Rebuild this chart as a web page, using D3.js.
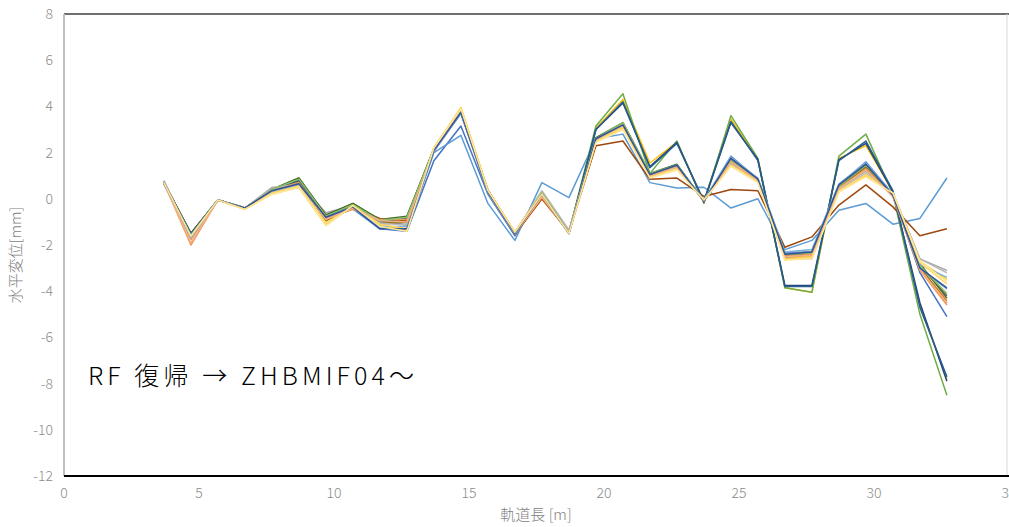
<!DOCTYPE html>
<html>
<head>
<meta charset="utf-8">
<script src="https://cdn.jsdelivr.net/npm/d3@7"></script>
<style>
  html, body { margin: 0; padding: 0; background: #fff; overflow: hidden; }
  svg { display: block; }
</style>
</head>
<body>
<div id="chart-container"></div>
<script>

//
// data
//
var xValues = [3.7, 4.7, 5.7, 6.7, 7.7, 8.7, 9.7, 10.7, 11.7, 12.7, 13.7, 14.7, 15.7, 16.7, 17.7,
               18.7, 19.7, 20.7, 21.7, 22.7, 23.7, 24.7, 25.7, 26.7, 27.7, 28.7, 29.7, 30.7, 31.7, 32.7];

var s01 = [0.65,-1.6,-0.05,-0.4,0.25,0.55,-0.7,-0.35,-1.3,-1.4,1.65,3.15,0.2,-1.6,0.2,-1.5,2.6,3.2,1.0,1.4,-0.1,1.7,0.85,-2.4,-2.3,0.5,1.5,0.2,-3.2,-5.1];
var s02 = [0.75,-1.75,-0.05,-0.4,0.3,0.7,-0.8,-0.4,-0.9,-0.9,2.1,3.75,0.35,-1.5,0.0,-1.4,2.55,3.3,1.05,1.45,-0.1,1.6,0.8,-2.45,-2.35,0.5,1.3,0.15,-3.0,-4.4];
var s03 = [0.7,-1.55,-0.05,-0.4,0.45,0.65,-0.6,-0.3,-1.0,-1.1,2.15,3.85,0.3,-1.45,0.3,-1.4,2.5,3.1,1.05,1.35,-0.05,1.55,0.75,-2.55,-2.55,0.45,1.2,0.25,-2.6,-3.1];
var s04 = [0.7,-1.55,-0.05,-0.45,0.3,0.5,-1.15,-0.3,-1.2,-1.3,2.2,3.95,0.4,-1.45,0.2,-1.5,3.05,4.3,1.55,2.45,-0.1,3.45,1.7,-3.85,-4.05,1.75,2.3,0.3,-4.6,-7.8];
var s05 = [0.65,-1.7,-0.05,-0.4,0.3,0.5,-0.75,-0.45,-1.3,-1.35,2.0,2.75,-0.2,-1.8,0.7,0.05,2.6,2.8,0.7,0.47,0.5,-0.4,0.0,-2.2,-1.8,-0.5,-0.2,-1.1,-0.85,0.9];
var s06 = [0.7,-1.5,-0.05,-0.4,0.4,0.9,-0.75,-0.2,-0.9,-0.8,2.2,3.8,0.35,-1.45,0.2,-1.45,3.15,4.55,1.1,2.5,-0.2,3.6,1.75,-3.85,-4.05,1.85,2.8,0.2,-5.0,-8.5];
var s07 = [0.7,-1.5,-0.05,-0.4,0.4,0.8,-0.8,-0.3,-1.0,-0.85,2.1,3.7,0.35,-1.5,0.2,-1.5,3.0,4.15,1.4,2.45,-0.15,3.3,1.7,-3.75,-3.75,1.7,2.4,0.3,-4.5,-7.9];
var s08 = [0.75,-1.6,-0.05,-0.4,0.35,0.65,-0.85,-0.4,-0.85,-0.95,2.1,3.8,0.35,-1.55,0.0,-1.45,2.3,2.5,0.85,0.9,0.1,0.4,0.35,-2.1,-1.65,-0.27,0.6,-0.35,-1.6,-1.3];
var s09 = [0.7,-1.6,-0.05,-0.4,0.35,0.7,-0.9,-0.35,-1.1,-1.0,2.1,3.8,0.3,-1.5,0.15,-1.45,2.55,3.2,1.0,1.4,-0.1,1.65,0.8,-2.45,-2.4,0.55,1.4,0.15,-2.9,-4.2];
var s10 = [0.7,-1.65,-0.05,-0.4,0.35,0.75,-0.95,-0.4,-1.05,-1.0,2.15,3.85,0.3,-1.5,0.15,-1.45,2.6,3.25,1.05,1.45,-0.1,1.7,0.8,-2.5,-2.45,0.5,1.35,0.1,-2.95,-4.5];
var s11 = [0.7,-1.5,-0.05,-0.4,0.4,0.8,-0.8,-0.3,-1.0,-0.8,2.15,3.75,0.35,-1.5,0.2,-1.5,3.0,4.2,1.35,2.4,-0.1,3.35,1.65,-3.8,-3.8,1.65,2.5,0.35,-4.7,-7.7];
var s12 = [0.7,-1.5,-0.05,-0.4,0.4,0.9,-0.7,-0.2,-0.9,-0.75,2.15,3.8,0.35,-1.5,0.2,-1.45,2.65,3.3,1.1,1.5,-0.1,1.75,0.85,-2.35,-2.3,0.6,1.5,0.2,-2.8,-4.3];
var s13 = [0.7,-1.65,-0.05,-0.4,0.3,0.6,-0.85,-0.4,-1.25,-1.35,2.05,3.7,0.25,-1.55,0.2,-1.45,2.6,3.2,1.0,1.4,-0.1,1.85,0.85,-2.35,-2.3,0.6,1.6,0.2,-3.0,-3.9];
var s14 = [0.7,-2.0,-0.05,-0.4,0.4,0.7,-0.85,-0.45,-0.9,-0.9,2.1,3.8,0.3,-1.5,0.05,-1.45,2.55,3.25,1.05,1.4,-0.1,1.6,0.8,-2.5,-2.4,0.45,1.3,0.1,-3.1,-4.6];
var s15 = [0.8,-1.7,-0.05,-0.4,0.5,0.6,-0.8,-0.35,-1.05,-1.15,2.15,3.85,0.3,-1.45,0.35,-1.35,2.5,3.1,1.0,1.35,-0.05,1.5,0.75,-2.6,-2.6,0.4,1.1,0.25,-2.6,-3.2];
var s16 = [0.7,-1.6,-0.05,-0.45,0.2,0.5,-1.1,-0.25,-1.15,-1.4,2.2,3.9,0.35,-1.45,0.25,-1.5,2.45,3.05,0.95,1.3,-0.05,1.45,0.75,-2.6,-2.5,0.3,1.0,0.25,-2.7,-3.5];
var s17 = [0.7,-1.6,-0.05,-0.4,0.3,0.6,-0.8,-0.35,-1.2,-1.2,2.1,3.75,0.3,-1.5,0.2,-1.45,2.6,3.2,1.05,1.45,-0.05,1.8,0.9,-2.3,-2.2,0.65,1.55,0.15,-2.85,-3.4];
var s18 = [0.7,-1.55,-0.05,-0.4,0.4,0.85,-0.75,-0.25,-0.95,-0.8,2.15,3.8,0.35,-1.5,0.25,-1.45,2.6,3.3,1.1,1.45,-0.1,1.7,0.85,-2.4,-2.35,0.55,1.45,0.15,-2.9,-4.1];
var s19 = [0.7,-1.6,-0.05,-0.45,0.25,0.55,-1.05,-0.3,-1.1,-1.3,2.2,3.9,0.35,-1.45,0.2,-1.5,2.5,3.1,0.95,1.3,-0.1,1.45,0.75,-2.65,-2.55,0.35,1.05,0.25,-2.75,-3.7];
var s20 = [0.7,-1.9,-0.05,-0.4,0.35,0.65,-0.9,-0.4,-0.95,-1.0,2.1,3.8,0.3,-1.5,0.1,-1.45,2.55,3.2,1.0,1.4,-0.1,1.6,0.8,-2.5,-2.45,0.45,1.25,0.1,-3.05,-4.5];
var s21 = [0.7,-1.55,-0.05,-0.4,0.35,0.65,-0.8,-0.35,-1.3,-1.3,2.1,3.75,0.3,-1.5,0.2,-1.5,2.6,3.2,1.05,1.45,-0.1,1.75,0.85,-2.4,-2.3,0.6,1.5,0.15,-3.0,-3.85];
var s22 = [0.7,-1.6,-0.05,-0.45,0.2,0.5,-1.15,-0.3,-1.2,-1.4,2.2,3.9,0.35,-1.45,0.2,-1.5,2.45,3.0,0.9,1.25,-0.05,1.4,0.7,-2.65,-2.6,0.3,0.95,0.25,-2.7,-3.6];

var seriesColors = ["#4472C4", "#ED7D31", "#A5A5A5", "#FFC000", "#5B9BD5", "#70AD47",
                    "#264478", "#9E480E", "#636363", "#997300", "#255E91", "#43682B",
                    "#698ED0", "#F1975A", "#B7B7B7", "#FFCD33", "#7CAFDD", "#8CC168",
                    "#FFD966", "#F4B183", "#2F5597", "#FFE699"];

var xTicks = [0, 5, 10, 15, 20, 25, 30, 35];
var yTicks = [-12, -10, -8, -6, -4, -2, 0, 2, 4, 6, 8];

var xTitle = "軌道長 [m]";
var yTitle = "水平変位[mm]";
var note = "RF 復帰 → ZHBMIF04〜";

var allSeries = [s01, s02, s03, s04, s05, s06, s07, s08, s09, s10, s11,
                 s12, s13, s14, s15, s16, s17, s18, s19, s20, s21, s22];


//
// setup
//
var width = 1009,
    height = 527;

var svg = d3.select("div#chart-container")
    .append("svg")
    .attr("width", width)
    .attr("height", height);

var x = d3.scaleLinear().domain([0, 35]).range([64, 1009]);
var y = d3.scaleLinear().domain([-12, 8]).range([476, 14]);

var labelFont = "'Noto Sans CJK JP', 'Noto Sans', sans-serif";


//
// frame
//
svg.append("line")
  .attr("x1", x(0)).attr("x2", width)
  .attr("y1", y(8)).attr("y2", y(8))
  .attr("stroke", "#404040").attr("stroke-width", 1.3);

svg.append("line")
  .attr("x1", 1007).attr("x2", 1007)
  .attr("y1", y(8)).attr("y2", y(-12))
  .attr("stroke", "#d9d9d9").attr("stroke-width", 1);

svg.append("line")
  .attr("x1", x(0)).attr("x2", x(0))
  .attr("y1", y(8)).attr("y2", y(-12))
  .attr("stroke", "#bfbfbf").attr("stroke-width", 2);

svg.append("line")
  .attr("x1", x(0)).attr("x2", width)
  .attr("y1", y(-12)).attr("y2", y(-12))
  .attr("stroke", "#000").attr("stroke-width", 2);


//
// tick labels
//
svg.append("g")
  .selectAll("text")
  .data(yTicks)
  .enter()
  .append("text")
  .attr("x", 53)
  .attr("y", function(d) { return y(d) + 5 })
  .attr("text-anchor", "end")
  .style("font-family", labelFont)
  .style("font-weight", 300)
  .style("font-size", "14px")
  .attr("fill", "#8c8c8c")
  .text(function(d) { return d });

// the last label (35) sits on the window edge and is cut, as in the original
svg.append("g")
  .selectAll("text")
  .data(xTicks)
  .enter()
  .append("text")
  .attr("x", function(d) { return x(d) })
  .attr("y", 498)
  .attr("text-anchor", "middle")
  .style("font-family", labelFont)
  .style("font-weight", 300)
  .style("font-size", "14px")
  .attr("fill", "#8c8c8c")
  .text(function(d) { return d });


//
// axis titles
//
svg.append("text")
  .attr("x", 536)
  .attr("y", 520)
  .attr("text-anchor", "middle")
  .style("font-family", labelFont)
  .style("font-weight", 300)
  .style("font-size", "15px")
  .attr("fill", "#7f7f7f")
  .text(xTitle);

svg.append("text")
  .attr("transform", "translate(21,255) rotate(-90)")
  .attr("text-anchor", "middle")
  .style("font-family", labelFont)
  .style("font-weight", 300)
  .style("font-size", "15px")
  .attr("fill", "#7f7f7f")
  .text(yTitle);


//
// lines
//
var line = d3.line()
    .x(function(d, i) { return x(xValues[i]) })
    .y(function(d) { return y(d) });

svg.append("g")
  .selectAll("path")
  .data(allSeries)
  .enter()
  .append("path")
  .attr("fill", "none")
  .attr("stroke", function(d, i) { return seriesColors[i] })
  .attr("stroke-width", 1.5)
  .attr("stroke-linejoin", "round")
  .attr("d", line);


//
// note in the plot
//
svg.append("text")
  .attr("x", 88)
  .attr("y", 385)
  .attr("textLength", 326)
  .attr("lengthAdjust", "spacing")
  .style("font-family", labelFont)
  .style("font-weight", 300)
  .style("font-size", "25px")
  .attr("fill", "#000")
  .text(note);

</script>
</body>
</html>
